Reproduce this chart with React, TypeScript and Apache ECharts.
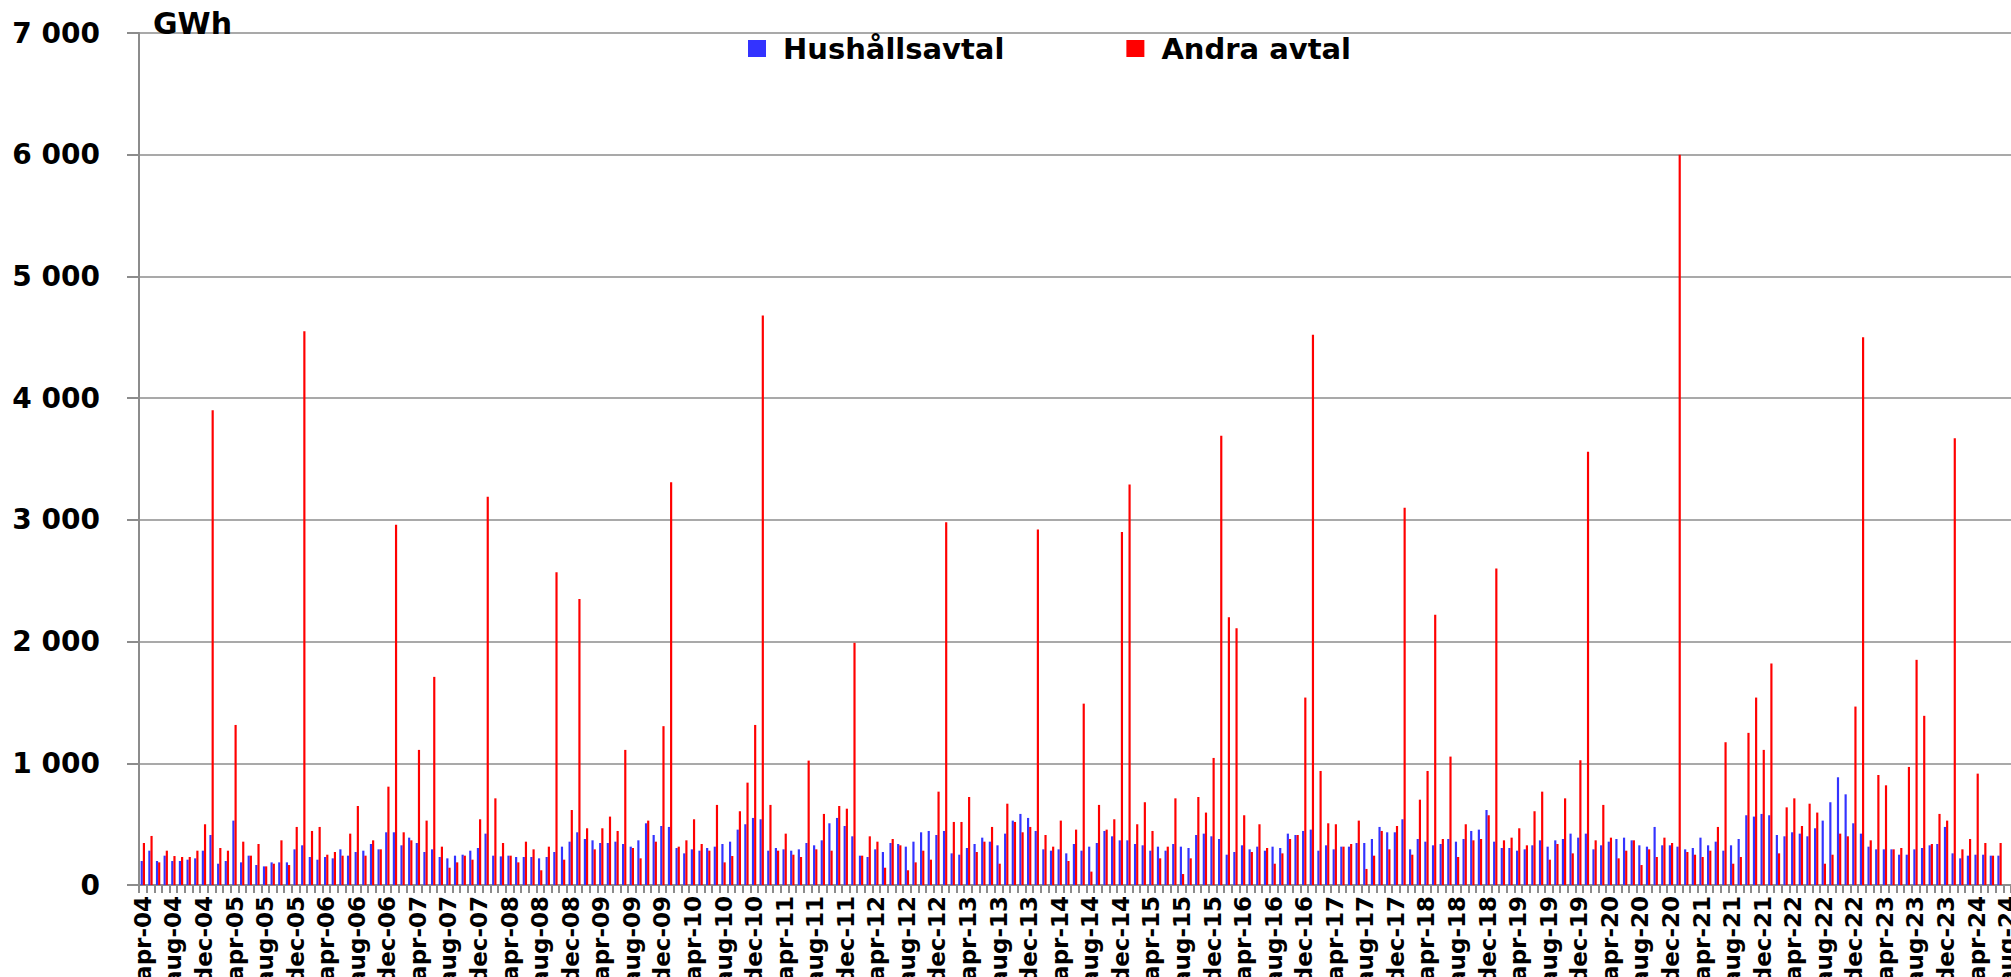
import React, { useEffect, useRef } from "react";
import * as echarts from "echarts";

const MONTHS = ["jan", "feb", "mar", "apr", "maj", "jun", "jul", "aug", "sep", "okt", "nov", "dec"];
const START_YEAR = 2004;
const START_MONTH = 3; // apr
const MONTH_COUNT = 245; // apr-04 .. aug-24

const categories: string[] = [];
for (let i = 0; i < MONTH_COUNT; i++) {
  const m = (START_MONTH + i) % 12;
  const y = START_YEAR + Math.floor((START_MONTH + i) / 12);
  categories.push(MONTHS[m] + "-" + String(y % 100).padStart(2, "0"));
}

const hushall: (number | null)[] = [
  197, 282, 197, 241, 197, 197, 208, 219, 282, 411, 175, 197,
  529, 186, 241, 164, 153, 186, 186, 186, 293, 326, 230, 208,
  230, 219, 293, 241, 271, 282, 337, 293, 433, 433, 326, 389,
  345, 271, 293, 230, 219, 241, 249, 282, 304, 422, 241, 235,
  241, 230, 230, 230, 219, 230, 271, 315, 356, 433, 378, 367,
  345, 345, 356, 337, 315, 367, 507, 411, 485, 477, 304, 260,
  293, 282, 304, 315, 337, 356, 455, 499, 551, 540, 282, 304,
  293, 282, 293, 345, 326, 367, 507, 551, 485, 400, 241, 230,
  293, 271, 345, 337, 315, 356, 433, 444, 411, 444, 260, 249,
  304, 337, 389, 356, 326, 422, 529, 584, 551, 444, 293, 282,
  293, 260, 337, 282, 315, 345, 444, 400, 367, 367, 337, 326,
  282, 315, 282, 337, 315, 304, 411, 422, 400, 378, 249, 271,
  326, 293, 315, 282, 315, 304, 422, 411, 444, 455, 282, 326,
  293, 315, 315, 345, 345, 378, 477, 433, 433, 540, 293, 378,
  356, 326, 337, 378, 356, 378, 444, 455, 616, 356, 304, 304,
  282, 293, 326, 367, 315, 367, 378, 422, 389, 422, 293, 326,
  356, 378, 389, 367, 326, 315, 477, 326, 326, 315, 293, 304,
  389, 326, 356, 282, 326, 378, 573, 562, 584, 573, 411, 400,
  433, 422, 400, 466, 529, 680, 885, 745, 507, 422, 315, 293,
  293, 293, 249, 249, 293, 304, 326, 337, 477, 260, 219, 241,
  249, 249, 241, 241, null,
];

const andra: (number | null)[] = [
  345, 403, 186, 282, 238, 230, 230, 282, 499, 3900, 304, 282,
  1315, 356, 241, 337, 153, 175, 367, 164, 477, 4550, 444, 477,
  249, 271, 241, 422, 649, 241, 367, 293, 808, 2960, 433, 367,
  1110, 529, 1710, 315, 142, 186, 241, 208, 540, 3190, 712, 345,
  241, 186, 356, 293, 121, 315, 2570, 208, 616, 2350, 466, 293,
  466, 562, 444, 1110, 304, 219, 529, 356, 1305, 3310, 315, 367,
  540, 337, 282, 658, 186, 238, 606, 841, 1315, 4680, 658, 282,
  422, 249, 230, 1022, 293, 584, 282, 649, 627, 1990, 241, 400,
  356, 142, 378, 326, 121, 186, 282, 208, 767, 2980, 518, 518,
  723, 271, 356, 477, 175, 668, 518, 433, 477, 2920, 411, 315,
  529, 197, 455, 1490, 110, 658, 455, 540, 2900, 3290, 499, 680,
  444, 219, 315, 712, 90, 219, 723, 595, 1044, 3690, 2200, 2110,
  573, 271, 499, 304, 175, 260, 378, 411, 1540, 4520, 937, 507,
  499, 315, 337, 529, 132, 241, 444, 293, 485, 3100, 249, 701,
  937, 2220, 378, 1055, 230, 499, 367, 378, 573, 2600, 367, 389,
  466, 326, 606, 767, 208, 337, 712, 260, 1025, 3560, 367, 658,
  389, 219, 282, 367, 164, 293, 230, 389, 345, 6000, 271, 249,
  230, 282, 477, 1173, 175, 230, 1250, 1540, 1110, 1820, 260, 638,
  712, 485, 668, 595, 175, 249, 422, 400, 1466, 4500, 367, 904,
  819, 293, 304, 970, 1850, 1390, 337, 584, 529, 3670, 293, 378,
  915, 345, 241, 345, null,
];

const Y_TICKS = [0, 1000, 2000, 3000, 4000, 5000, 6000, 7000];

const FONT = "DejaVu Sans";
const GRAY = "#8c8c8c";

function fmt(v: number): string {
  return String(v).replace(/\B(?=(\d{3})+(?!\d))/g, " ");
}

export default function App() {
  const ref = useRef<HTMLDivElement>(null);

  useEffect(() => {
    if (!ref.current) return;
    const chart = echarts.init(ref.current, undefined, { renderer: "svg" });
    chart.setOption({
      animation: false,
      backgroundColor: "#ffffff",
      title: {
        text: "GWh",
        left: 153,
        top: 8,
        padding: 0,
        textStyle: { fontFamily: FONT, fontSize: 30, fontWeight: "bold", color: "#000" },
      },
      legend: {
        left: 748,
        top: 34,
        padding: 0,
        itemWidth: 18,
        itemHeight: 17,
        itemGap: 122,
        icon: "rect",
        textStyle: { fontFamily: FONT, fontSize: 29, fontWeight: "bold", color: "#000", padding: [0, 0, 0, 12] },
        data: ["Hushållsavtal", "Andra avtal"],
      },
      grid: { left: 139, right: 0, top: 33, bottom: 92, outerBoundsMode: "none", containLabel: false },
      xAxis: {
        type: "category",
        data: categories,
        boundaryGap: true,
        axisLine: { show: true, lineStyle: { color: GRAY, width: 2 } },
        axisTick: { show: true, interval: 0, length: 8, lineStyle: { color: GRAY, width: 2 } },
        axisLabel: {
          interval: 3,
          rotate: 90,
          margin: 11,
          fontFamily: FONT,
          fontSize: 23,
          fontWeight: "bold",
          color: "#000",
        },
        splitLine: { show: false },
      },
      yAxis: {
        type: "value",
        min: Y_TICKS[0],
        max: Y_TICKS[Y_TICKS.length - 1],
        interval: 1000,
        axisLine: { show: true, lineStyle: { color: GRAY, width: 2 } },
        axisTick: { show: true, length: 12, lineStyle: { color: GRAY, width: 2 } },
        axisLabel: {
          margin: 39,
          fontFamily: FONT,
          fontSize: 28,
          fontWeight: "bold",
          color: "#000",
          formatter: (v: number) => fmt(v),
        },
        splitLine: { show: true, lineStyle: { color: GRAY, width: 1.5 } },
      },
      series: [
        {
          name: "Hushållsavtal",
          type: "bar",
          data: hushall,
          barGap: "0%",
          barCategoryGap: "43%",
          itemStyle: { color: "#3333ff" },
        },
        {
          name: "Andra avtal",
          type: "bar",
          data: andra,
          barGap: "0%",
          barCategoryGap: "43%",
          itemStyle: { color: "#ff0000" },
        },
      ],
    });
    return () => chart.dispose();
  }, []);

  return (
    <div style={{ position: "fixed", left: 0, top: 0, width: 2011, height: 977, overflow: "hidden", background: "#fff" }}>
      <div ref={ref} style={{ width: 2011, height: 977 }} />
    </div>
  );
}
